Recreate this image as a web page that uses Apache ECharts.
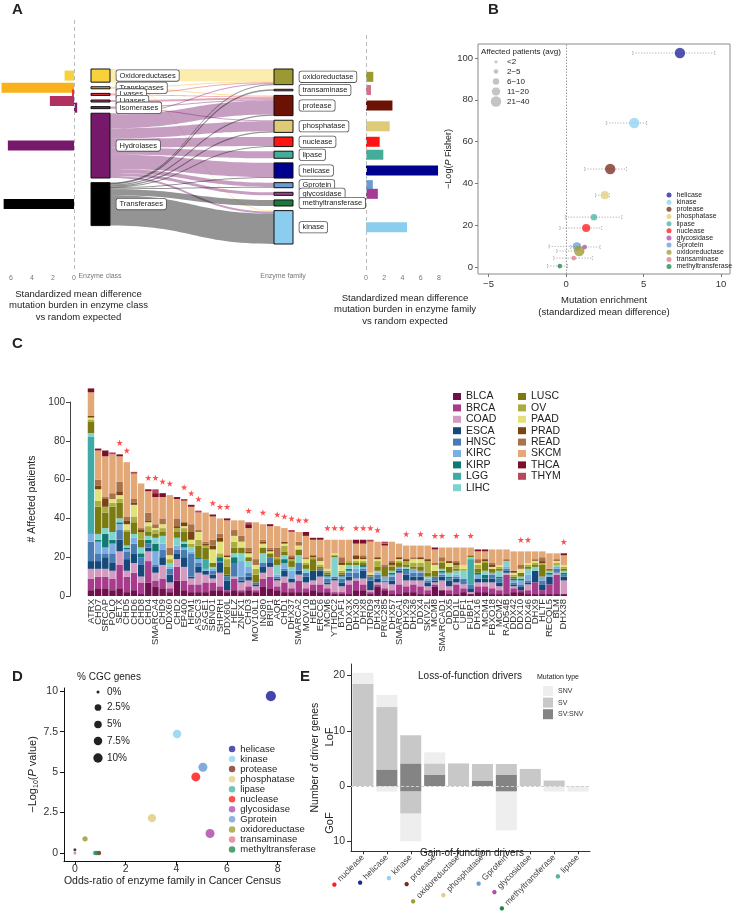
<!DOCTYPE html>
<html>
<head>
<meta charset="utf-8">
<title>Enzyme families</title>
<script src="https://cdn.jsdelivr.net/npm/echarts@6.0.0/dist/echarts.min.js"></script>
<style>
html,body{margin:0;padding:0;background:#ffffff;}
#chart{width:732px;height:917px;}
</style>
</head>
<body>
<div id="chart"></div>
<script>
// ================= DATA =================
// ---- Panel A ----
const classNames = ['Oxidoreductases','Translocases','Lyases','Ligases','Isomerases','Hydrolases','Transferases'];
const classSMD = [0.9, 6.9, 0.2, 2.3, -0.3, 6.3, 6.7];
const familyNames = ['oxidoreductase','transaminase','protease','phosphatase','nuclease','lipase','helicase','Gprotein','glycosidase','methyltransferase','kinase'];
const familySMD = [0.8, 0.55, 2.9, 2.6, 1.5, 1.9, 7.9, 0.75, 1.3, -0.3, 4.5];
const flowFrom = ['Oxidoreductases','Oxidoreductases','Translocases','Translocases','Lyases','Lyases','Ligases','Isomerases','Isomerases',
  'Hydrolases','Hydrolases','Hydrolases','Hydrolases','Hydrolases','Hydrolases','Hydrolases','Hydrolases','Hydrolases',
  'Transferases','Transferases','Transferases','Transferases','Transferases','Transferases','Transferases','Transferases','Transferases'];
const flowTo = ['oxidoreductase','kinase','oxidoreductase','protease','oxidoreductase','protease','protease','protease','phosphatase',
  'oxidoreductase','protease','phosphatase','nuclease','lipase','helicase','Gprotein','glycosidase','kinase',
  'oxidoreductase','transaminase','protease','phosphatase','nuclease','helicase','Gprotein','methyltransferase','kinase'];
const flowSize = [12,1,1,1,1,1,2,1,1,
  1,14,10,9,7,14,4,3,2,
  0.5,1.5,1,1,0.5,1,1,6,30];
const aLeftTicks = [0,2,4,6];
const aRightTicks = [0,2,4,6,8];

// ---- Panel B ----
const bFamilies = ['helicase','kinase','protease','phosphatase','lipase','nuclease','glycosidase','Gprotein','oxidoreductase','transaminase','methyltransferase'];
const bEnrichment = [7.35, 4.4, 2.85, 2.5, 1.8, 1.3, 1.2, 0.7, 0.85, 0.5, -0.4];
const bCILow =      [4.3, 2.6, 1.2, 1.9, -0.05, -0.4, 0.3, -1.1, -0.6, -0.8, -1.2];
const bCIHigh =     [9.6, 5.2, 3.9, 2.8, 3.6, 2.3, 2.2, 0.9, 1.1, 1.7, 0.1];
const bNegLogP =    [102.4, 68.9, 46.9, 34.4, 23.9, 18.7, 9.6, 9.9, 7.7, 4.3, 0.5];
const bAvgPatients = [28, 35, 24, 15, 8, 14, 4, 12, 25, 3, 4];
const bSizeLabels = ['<2','2\u22125','6\u221210','11\u221220','21\u221240'];
const bSizeRep = [1, 3, 8, 15, 30];
const bXTicks = [-5,0,5,10];
const bYTicks = [0,20,40,60,80,100];

// ---- Panel C ----
const genes = ['ATRX','CHD7','SRCAP','POLQ','SETX','CHD5','CHD6','CHD8','CHD4','SMARCA4','CHD9','DDX60','CHD2','EP400','HFM1','ASCC3','SAGE1','SBNO1','SHPRH','DDX60L','HELZ','ZNFX1','CHD3','MOV10L1','INO80','BRIP1','AQR','CHD1','DHX37','SMARCA2','MOV10','HELB','ERCC6','MCM6','YTHDC2','BTAF1','DDX3X','DHX30','DHX8','TDRD9','DHX34','PRIC285','DHX57','SMARCA1','DHX29','DHX36','DDX4','SKIV2L','MCM8','SMARCAD1','DDX5','CHD1L','UPF1','FUBP1','DHX16','MCM4','FBXO18','MCM2','RAD54B','DDX42','DDX10','DDX46','DHX9','HLTF','RECQL5','BLM','DHX38'];
const cancerTypes = ['BLCA','BRCA','COAD','ESCA','HNSC','KIRC','KIRP','LGG','LIHC','LUSC','OV','PAAD','PRAD','READ','SKCM','THCA','THYM'];
const BLCA = [3,4,4,3,4,2,3,1,7,5, 4,2,8,3,2,2,2,3,3,2, 3,2,3,2,5,4,3,2,2,2, 2,3,2,2,1,1,1,3,3,1, 5,3,1,1,2,2,1,1,5,3, 1,1,2,1,2,2,1,1,1,2, 2,1,1,1,1,1,1];
const BRCA = [6,6,6,6,12,8,9,6,11,3, 5,2,7,5,4,4,5,4,2,1, 6,1,2,1,4,6,2,5,2,6, 2,3,4,2,1,1,5,5,3,1, 1,1,2,5,3,4,4,2,1,0, 2,5,2,0,3,3,3,2,10,2, 1,2,6,2,5,10,0];
const COAD = [5,4,4,4,7,3,5,3,5,4, 7,3,4,7,3,6,4,2,7,0, 1,4,3,2,3,5,3,3,3,3, 3,2,4,2,6,3,2,1,3,1, 1,3,3,6,3,2,3,2,1,5, 2,1,2,1,2,2,3,2,1,1, 0,3,0,0,0,1,7];
const ESCA = [4,4,6,4,6,6,5,6,2,3, 4,4,3,5,1,3,2,2,5,5, 0,1,2,1,3,2,1,3,2,2, 3,5,3,1,1,2,2,0,4,5, 2,0,2,1,3,2,2,2,1,2, 3,2,0,2,2,2,2,2,1,1, 2,1,6,3,4,0,2];
const HNSC = [10,4,2,5,5,4,5,4,2,1, 4,3,2,4,12,2,0,2,1,2, 7,2,2,1,2,3,1,1,0,4, 2,0,1,2,1,2,2,3,1,2, 2,1,2,1,2,2,2,1,2,1, 1,1,3,2,0,0,2,2,1,1, 1,1,0,2,0,2,1];
const KIRC = [4,6,3,5,3,1,3,0,0,7, 3,1,2,1,1,2,1,1,0,0, 0,8,3,0,0,0,1,3,4,0, 0,0,0,1,0,1,1,2,1,0, 1,2,1,1,0,2,1,1,0,1, 0,1,0,0,2,0,1,0,1,1, 2,3,0,2,1,1,0];
const KIRP = [0,1,7,2,1,1,0,2,2,4, 0,0,0,2,0,1,0,0,2,1, 3,0,0,0,0,0,0,2,0,0, 0,0,0,1,0,1,1,0,1,0, 0,0,1,0,1,0,0,0,0,1, 1,0,0,0,1,2,0,1,0,1, 1,0,0,0,1,0,1];
const LGG  = [50,0,0,0,0,0,0,0,0,0, 0,0,0,0,0,0,5,0,0,0, 0,0,0,0,0,0,0,0,0,0, 0,0,0,0,0,0,0,0,0,0, 0,0,0,0,0,0,0,0,0,0, 0,0,0,13,0,0,0,0,0,0, 0,0,0,0,0,0,0];
const LIHC = [2,3,3,4,2,1,2,3,2,3, 4,2,4,1,2,0,0,1,0,0, 2,4,3,0,5,0,5,2,2,4, 2,0,0,0,10,0,2,2,0,0, 1,0,1,0,1,0,0,1,0,1, 2,2,4,1,0,2,0,3,3,0, 1,3,2,0,1,1,1];
const LUSC = [6,14,8,13,8,7,6,4,2,2, 2,0,3,5,0,6,6,2,0,4, 3,3,2,4,3,2,3,2,3,3, 2,6,1,1,1,1,1,1,1,1, 2,5,2,2,1,1,2,2,3,3, 3,1,0,1,2,4,2,1,0,1, 2,1,1,6,1,0,1];
const OV   = [1,3,3,2,2,1,3,4,3,2, 2,2,2,2,2,3,1,0,2,4, 3,0,0,3,0,0,1,3,1,0, 1,1,1,1,0,1,1,1,1,0, 3,0,1,1,2,2,2,6,0,1, 0,2,1,0,2,1,0,1,0,1, 0,1,1,1,0,1,1];
const PAAD = [1,6,0,2,2,3,6,0,2,1, 2,2,0,1,2,4,0,7,6,1, 3,3,2,2,2,1,0,1,0,2, 2,0,2,1,1,3,0,1,1,1, 1,0,0,1,0,2,2,0,3,0, 2,0,2,0,1,0,1,1,0,1, 2,1,1,0,0,1,1];
const PRAD = [1,2,4,0,2,2,1,1,1,0, 0,0,1,2,4,0,1,2,2,1, 0,0,1,0,1,1,0,1,1,0, 0,1,0,0,0,1,0,2,1,0, 1,0,1,1,1,0,1,1,0,0, 1,1,0,0,0,1,1,0,0,1, 0,0,0,1,0,0,0];
const READ = [0,3,1,3,5,2,2,1,4,2, 3,4,4,0,4,1,1,3,2,0, 3,3,2,3,1,1,5,0,1,2, 1,0,2,0,0,3,0,0,1,0, 0,1,1,0,0,1,0,0,1,2, 0,1,0,0,2,0,1,0,1,0, 2,0,1,2,0,1,0];
const SKCM = [12,15,21,20,13,28,13,23,11,14, 11,27,10,11,9,9,15,12,8,18, 5,8,10,19,8,11,11,7,12,5, 11,8,9,15,7,9,11,6,6,16, 8,10,10,7,7,6,6,7,7,5, 7,7,9,4,4,4,7,8,5,10, 7,6,4,3,8,3,5];
const THCA = [2,1,3,0,1,0,0,0,1,2, 2,0,1,0,1,0,0,1,0,1, 0,0,2,0,0,1,0,0,0,0, 2,1,1,0,0,0,0,2,2,0, 0,1,0,0,0,0,0,0,1,0, 0,0,0,0,1,1,0,0,0,0, 0,0,0,0,0,0,1];
const THYM = [0,0,0,1,0,0,1,0,0,2, 0,0,0,1,0,1,0,0,0,0, 0,0,1,0,0,0,0,0,1,0, 0,0,0,0,0,0,0,0,0,1, 0,1,0,0,0,0,0,0,0,0, 0,0,0,0,0,0,0,0,0,0, 0,0,0,0,0,0,0];
const starGenes = ['SETX','CHD5','CHD4','SMARCA4','CHD9','DDX60','EP400','HFM1','ASCC3','SBNO1','SHPRH','DDX60L','CHD3','INO80','AQR','CHD1','DHX37','SMARCA2','MOV10','MCM6','YTHDC2','BTAF1','DHX30','DHX8','TDRD9','DHX34','DHX29','DDX4','MCM8','SMARCAD1','CHD1L','FUBP1','DDX10','DDX46','DHX38'];

// ---- Panel D ----
const dOddsRatio = [7.73, 4.03, 0.95, 3.04, 0.79, 4.77, 5.33, 5.05, 0.4, 0.0, 0.85];
const dNegLogP   = [9.7, 7.35, 0.0, 2.15, 0.0, 4.7, 1.2, 5.3, 0.87, 0.0, 0.0];
const dPctCGC    = [12.5, 7.5, 1, 7, 1, 9, 9, 9, 1.5, 0, 1];
const dOtherOdds = [0.0];
const dOtherNegLogP = [0.2];
const dOtherPct = [0];
const dSizeLegend = [0, 2.5, 5, 7.5, 10];
const dXTicks = [0,2,4,6,8];
const dYTicks = [0,2.5,5,7.5,10];

// ---- Panel E ----
const eFamilies = ['nuclease','helicase','kinase','protease','oxidoreductase','phosphatase','Gprotein','glycosidase','methyltransferase','lipase'];
const eLofSVSNV = [0, 3, 4.1, 2, 0, 1, 2, 0, 0, 0];
const eLofSV    = [18.5, 11.3, 5.1, 2.1, 4.1, 3, 2, 3.1, 1, 0];
const eLofSNV   = [2, 2.2, 0, 2, 0, 0, 0, 0, 0, 0];
const eGofSVSNV = [0, 0, -1, 0, 0, 0, -1, 0, 0, 0];
const eGofSV    = [0, 0, -4, 0, 0, 0, 0, 0, 0, 0];
const eGofSNV   = [0, -1, -5, 0, 0, 0, -7, 0, -1, -1];
const eYTicks = [-10, 0, 10, 20];

// ================= STYLE =================
const FONT = '"Liberation Sans", Arial, Helvetica, sans-serif';
const classColors = ['#F7D23C','#F9B21C','#E8323C','#B03064','#7E1E70','#76196B','#000000'];
const familyNodeColors = ['#9B9A32','#D4708A','#6C1204','#DDCB78','#FF1414','#44AD98','#00008F','#6A9BD2','#A43C96','#1A7A3A','#8BCDEE'];
const famColor = {helicase:'#23239C', kinase:'#92D2F2', protease:'#7B2D1D', phosphatase:'#E2CF80', lipase:'#4CB5A0', nuclease:'#FF1E1E', glycosidase:'#B04DAF', Gprotein:'#6D9ED6', oxidoreductase:'#A09D33', transaminase:'#E27890', methyltransferase:'#22884A'};
const cancerColors = ['#6E0F4E','#A83C8C','#D49ABF','#17487A','#4A7CB4','#7DAEE2','#0F7A72','#3FAAA6','#80D2CF','#7B7B12','#ABAD42','#E2E27C','#7A4312','#A8724A','#E3A878','#7B1028','#B8475E'];
const mutColors = {'SNV':'#EEEEEE','SV':'#C8C8C8','SV:SNV':'#848484'};

function bBinSize(v){ if (v < 2) return 1.6; if (v <= 5) return 3; if (v <= 10) return 4.4; if (v <= 20) return 5.8; return 7.6; }
function dSize(p){ return p < 2.5 ? 3 + 1.48 * p : 6.7 + 0.35 * (p - 2.5); }

const chart = echarts.init(document.getElementById('chart'), null, {renderer:'canvas', width:732, height:917});

function hBarRender(colors, h) {
  return function (params, api) {
    const v = api.value(0), y = api.value(1), ci = api.value(2);
    const p0 = api.coord([0, y]), p1 = api.coord([v, y]);
    return {type:'rect', shape:{x:Math.min(p0[0], p1[0]), y:p0[1] - h / 2, width:Math.abs(p1[0] - p0[0]), height:h}, style:{fill:colors[ci]}};
  };
}
function errRender(params, api) {
  const y = api.value(2);
  const a = api.coord([api.value(0), y]), b = api.coord([api.value(1), y]);
  const st = {stroke:'#9a9a9a', lineWidth:0.8, lineDash:[1.2, 1.6]};
  return {type:'group', children:[
    {type:'line', shape:{x1:a[0], y1:a[1], x2:b[0], y2:b[1]}, style:st},
    {type:'line', shape:{x1:a[0], y1:a[1] - 2, x2:a[0], y2:a[1] + 2}, style:st},
    {type:'line', shape:{x1:b[0], y1:b[1] - 2, x2:b[0], y2:b[1] + 2}, style:st}
  ]};
}
function txt(x, y, text, o) {
  o = o || {};
  return {type:'text', x:x, y:y, rotation:o.rot || 0, silent:true, z:50,
    style:{text:text, fontFamily:FONT, fontSize:o.size || 9.5, fontWeight:o.bold ? 'bold' : 'normal', fill:o.color || '#222',
      align:o.align || 'left', textAlign:o.align || 'left', verticalAlign:'middle', textVerticalAlign:'middle', rich:o.rich}};
}
const minus = v => (v < 0 ? '\u2212' + Math.abs(v) : String(v));

// sankey
const sankeyNodes = classNames.map((n, i) => ({name:n, itemStyle:{color:classColors[i]}}))
  .concat(familyNames.map((n, i) => ({name:n, itemStyle:{color:familyNodeColors[i]}})));
const sankeyLinks = flowFrom.map((s, i) => ({source:s, target:flowTo[i], value:flowSize[i]}));

// C
const cancerCounts = [BLCA,BRCA,COAD,ESCA,HNSC,KIRC,KIRP,LGG,LIHC,LUSC,OV,PAAD,PRAD,READ,SKCM,THCA,THYM];
const geneTotals = genes.map((g, i) => cancerCounts.reduce((s, a) => s + a[i], 0));
const starPath = 'path://M50,0 L61,35 L98,35 L68,57 L79,91 L50,70 L21,91 L32,57 L2,35 L39,35 Z';

const series = [];
series.push({
  type:'sankey', id:'sankey', left:91, top:69, width:202, height:175,
  nodeWidth:19, nodeGap:4.6, layoutIterations:0, draggable:false, nodeAlign:'justify',
  data:sankeyNodes, links:sankeyLinks,
  emphasis:{disabled:true},
  itemStyle:{borderColor:'#111', borderWidth:1},
  lineStyle:{color:'source', opacity:0.42, curveness:0.5},
  label:{position:'right', distance:6, fontSize:7.5, fontFamily:FONT, color:'#222', backgroundColor:'#fff',
    borderColor:'#555', borderWidth:0.8, borderRadius:2, padding:[1.5,3,1,3]}
});
series.push({type:'custom', id:'aClassBars', xAxisIndex:0, yAxisIndex:0, data:[], renderItem:hBarRender(classColors, 10), silent:true,
  markLine:{silent:true, symbol:'none', label:{show:false}, lineStyle:{type:[4,3], color:'#bbbbbb', width:1}, data:[{xAxis:0}]}});
series.push({type:'custom', id:'aFamBars', xAxisIndex:1, yAxisIndex:1, data:[], renderItem:hBarRender(familyNodeColors, 10), silent:true,
  markLine:{silent:true, symbol:'none', label:{show:false}, lineStyle:{type:[4,3], color:'#bbbbbb', width:1}, data:[{xAxis:0}]}});
// B
series.push({type:'custom', id:'bErr', xAxisIndex:2, yAxisIndex:2, silent:true, renderItem:errRender,
  encode:{x:[0,1], y:2}, data:bFamilies.map((f, i) => [bCILow[i], bCIHigh[i], bNegLogP[i]]),
  markLine:{silent:true, symbol:'none', label:{show:false}, lineStyle:{type:[1.5,1.5], color:'#9a9a9a', width:1}, data:[{xAxis:0}]}});
bFamilies.forEach((f, i) => series.push({type:'scatter', name:f, xAxisIndex:2, yAxisIndex:2, z:3,
  data:[[bEnrichment[i], bNegLogP[i], bAvgPatients[i]]], symbolSize:v => 2 * bBinSize(v[2]) * 0.62 + 1,
  itemStyle:{color:famColor[f], opacity:0.78}}));
// C
cancerTypes.forEach((ct, k) => series.push({type:'bar', name:ct, xAxisIndex:3, yAxisIndex:3, stack:'c',
  data:cancerCounts[k], barCategoryGap:'10%', clip:false, itemStyle:{color:cancerColors[k]}}));
series.push({type:'scatter', xAxisIndex:3, yAxisIndex:3, clip:false, symbol:starPath, symbolSize:6.5,
  itemStyle:{color:'#FF2222'}, data:starGenes.map(g => [g, geneTotals[genes.indexOf(g)] + 6])});
// D
series.push({type:'scatter', name:'other', xAxisIndex:4, yAxisIndex:4, data:dOtherOdds.map((x, i) => [x, dOtherNegLogP[i], dOtherPct[i]]),
  symbolSize:v => dSize(v[2]), itemStyle:{color:'#111'}});
bFamilies.forEach((f, i) => series.push({type:'scatter', name:f, xAxisIndex:4, yAxisIndex:4,
  data:[[dOddsRatio[i], dNegLogP[i], dPctCGC[i]]], symbolSize:v => dSize(v[2]), itemStyle:{color:famColor[f], opacity:0.85}}));
// E
[['SV:SNV', eLofSVSNV], ['SV:SNV', eGofSVSNV], ['SV', eLofSV], ['SV', eGofSV], ['SNV', eLofSNV], ['SNV', eGofSNV]].forEach((p, k) =>
  series.push({type:'bar', name:p[0], stack:'e', xAxisIndex:5, yAxisIndex:5, data:p[1], barCategoryGap:'12%',
    itemStyle:{color:mutColors[p[0]]},
    markLine: k === 0 ? {silent:true, symbol:'none', label:{show:false}, lineStyle:{type:[3,2], color:'#cfcfcf', width:1}, data:[{yAxis:0}]} : undefined}));

const eRich = {t:{fontSize:8.5, color:'#444', fontFamily:FONT}};
eFamilies.forEach((f, i) => { eRich['d' + i] = {fontSize:10, color:famColor[f]}; });

const axisTxt = {fontFamily:FONT, color:'#333'};
const option = {
  animation:false,
  textStyle:{fontFamily:FONT},
  grid:[
    {left:0.5, top:20, width:77.2, height:250},
    {left:360.5, top:35, width:81.2, height:235},
    {left:478, top:44, width:252, height:230, show:true, borderColor:'#8a8a8a', borderWidth:1, backgroundColor:'transparent'},
    {left:87.4, top:402, width:480, height:194},
    {left:64, top:688, width:217, height:173},
    {left:351, top:664, width:239, height:195}
  ],
  xAxis:[
    {gridIndex:0, type:'value', min:-0.35, max:7, inverse:true, axisLine:{show:false}, axisTick:{show:false}, splitLine:{show:false},
      axisLabel:{customValues:aLeftTicks, fontSize:7, color:'#777', margin:5}},
    {gridIndex:1, type:'value', min:-0.603, max:8.3, axisLine:{show:false}, axisTick:{show:false}, splitLine:{show:false},
      axisLabel:{customValues:aRightTicks, fontSize:7, color:'#777', margin:5}},
    {gridIndex:2, type:'value', min:-5.68, max:10.58, axisLine:{show:false, onZero:false}, splitLine:{show:false},
      axisTick:{show:true, customValues:bXTicks, length:3, lineStyle:{color:'#777'}},
      axisLabel:Object.assign({customValues:bXTicks, fontSize:9.5, margin:5, formatter:minus}, axisTxt),
      name:'Mutation enrichment\n(standardized mean difference)', nameLocation:'middle', nameGap:21,
      nameTextStyle:{fontSize:9.5, lineHeight:11.5, color:'#222'}},
    {gridIndex:3, type:'category', data:genes, axisLine:{show:false}, axisTick:{show:false},
      axisLabel:Object.assign({rotate:90, interval:0, fontSize:9.5, margin:3}, axisTxt)},
    {gridIndex:4, type:'value', min:-0.43, max:8.13, splitLine:{show:false},
      axisLine:{show:true, onZero:false, lineStyle:{color:'#111', width:1}},
      axisTick:{show:true, customValues:dXTicks, length:4, lineStyle:{color:'#111'}},
      axisLabel:Object.assign({customValues:dXTicks, fontSize:10.5, margin:3}, axisTxt),
      name:'Odds-ratio of enzyme family in Cancer Census', nameLocation:'middle', nameGap:15,
      nameTextStyle:{fontSize:10.5, color:'#222'}},
    {gridIndex:5, type:'category', data:eFamilies, axisLine:{show:true, onZero:false, lineStyle:{color:'#333'}},
      axisTick:{show:true, alignWithLabel:true, length:3, lineStyle:{color:'#333'}},
      axisLabel:{rotate:45, interval:0, margin:5, formatter:(v, i) => '{d' + i + '|\u25CF} {t|' + v + '}', rich:eRich}}
  ],
  yAxis:[
    {gridIndex:0, type:'value', min:20, max:270, inverse:true, show:false},
    {gridIndex:1, type:'value', min:35, max:270, inverse:true, show:false},
    {gridIndex:2, type:'value', min:-3.3, max:106.7, axisLine:{show:false, onZero:false}, splitLine:{show:false},
      axisTick:{show:true, customValues:bYTicks, length:3, lineStyle:{color:'#777'}},
      axisLabel:Object.assign({customValues:bYTicks, fontSize:9.5, margin:5}, axisTxt),
      name:'\u2212Log({i|P} Fisher)', nameLocation:'middle', nameGap:14,
      nameTextStyle:{fontSize:9, color:'#222', rich:{i:{fontStyle:'italic', fontSize:9, fontFamily:FONT}}}},
    {gridIndex:3, type:'value', min:0, max:100, interval:20, offset:17.4, splitLine:{show:false},
      axisLine:{show:true, lineStyle:{color:'#444'}}, axisTick:{show:true, length:4, lineStyle:{color:'#444'}},
      axisLabel:Object.assign({fontSize:10, margin:5}, axisTxt),
      name:'# Affected patients', nameLocation:'middle', nameGap:30, nameTextStyle:{fontSize:10.5, color:'#222'}},
    {gridIndex:4, type:'value', min:-0.5, max:10.2, splitLine:{show:false},
      axisLine:{show:true, onZero:false, lineStyle:{color:'#111'}},
      axisTick:{show:true, customValues:dYTicks, length:4, lineStyle:{color:'#111'}},
      axisLabel:Object.assign({customValues:dYTicks, fontSize:10.5, margin:6}, axisTxt),
      name:'\u2212Log{sub|10}({i|P} value)', nameLocation:'middle', nameGap:21,
      nameTextStyle:{fontSize:11, color:'#222', rich:{sub:{fontSize:7, padding:[7,0,0,0], fontFamily:FONT}, i:{fontStyle:'italic', fontSize:11, fontFamily:FONT}}}},
    {gridIndex:5, type:'value', min:-11.8, max:22.1, splitLine:{show:false},
      axisLine:{show:true, onZero:false, lineStyle:{color:'#333'}},
      axisTick:{show:true, customValues:eYTicks, length:4, lineStyle:{color:'#333'}},
      axisLabel:Object.assign({customValues:eYTicks, fontSize:10.5, margin:6, formatter:v => String(Math.abs(v))}, axisTxt),
      name:'Number of driver genes', nameLocation:'middle', nameGap:30, nameTextStyle:{fontSize:10.5, color:'#222'}}
  ],
  legend:[
    {id:'lc1', data:cancerTypes.slice(0, 9), left:453, top:391, orient:'vertical', icon:'rect', itemWidth:8, itemHeight:7, itemGap:0.4,
      padding:0, selectedMode:false, textStyle:{fontSize:10.5, lineHeight:10, color:'#222', fontFamily:FONT}},
    {id:'lc2', data:cancerTypes.slice(9), left:518, top:391, orient:'vertical', icon:'rect', itemWidth:8, itemHeight:7, itemGap:0.4,
      padding:0, selectedMode:false, textStyle:{fontSize:10.5, lineHeight:10, color:'#222', fontFamily:FONT}},
    {id:'lb', data:bFamilies, left:666.5, top:191.5, orient:'vertical', icon:'circle', itemWidth:5, itemHeight:5, itemGap:0.05,
      padding:0, selectedMode:false, textStyle:{fontSize:7, lineHeight:7.1, color:'#222', fontFamily:FONT}},
    {id:'ld', data:bFamilies, left:228.8, top:744, orient:'vertical', icon:'circle', itemWidth:6.5, itemHeight:6.5, itemGap:0.05,
      padding:0, selectedMode:false, textStyle:{fontSize:9.5, lineHeight:9.7, color:'#222', fontFamily:FONT}},
    {id:'le', data:['SNV','SV','SV:SNV'], left:543, top:686, orient:'vertical', icon:'rect', itemWidth:10, itemHeight:10, itemGap:1.6,
      padding:0, selectedMode:false, textStyle:{fontSize:7, color:'#333', fontFamily:FONT}}
  ],
  series:series,
  graphic:{elements:[]}
};

// graphic texts / legend keys
const G = [];
G.push(txt(12, 10, 'A', {size:15, bold:true}));
G.push(txt(488, 10, 'B', {size:15, bold:true}));
G.push(txt(12, 344, 'C', {size:15, bold:true}));
G.push(txt(12, 677, 'D', {size:15, bold:true}));
G.push(txt(300, 677, 'E', {size:15, bold:true}));
G.push(txt(100, 276, 'Enzyme class', {size:7, color:'#777', align:'center'}));
G.push(txt(283, 276, 'Enzyme family', {size:7, color:'#777', align:'center'}));
['Standardized mean difference','mutation burden in enzyme class','vs random expected'].forEach((s, i) =>
  G.push(txt(78.5, 294 + i * 11.8, s, {size:9.5, align:'center'})));
['Standardized mean difference','mutation burden in enzyme family','vs random expected'].forEach((s, i) =>
  G.push(txt(405, 298 + i * 11.5, s, {size:9.5, align:'center'})));
G.push(txt(481, 52, 'Affected patients (avg)', {size:8}));
bSizeLabels.forEach((s, i) => {
  const yy = [62, 71.5, 81.5, 91.5, 101.5][i];
  G.push({type:'circle', silent:true, z:50, shape:{cx:496, cy:yy, r:(2 * bBinSize(bSizeRep[i]) * 0.62 + 1) / 2}, style:{fill:'#c4c4c4'}});
  G.push(txt(507, yy, s, {size:8}));
});
G.push(txt(77, 677, '% CGC genes', {size:10}));
dSizeLegend.forEach((p, i) => {
  const yy = [692, 707.5, 724.5, 741, 758][i];
  G.push({type:'circle', silent:true, z:50, shape:{cx:98, cy:yy, r:dSize(p) / 2}, style:{fill:'#222'}});
  G.push(txt(107, yy, p + '%', {size:10}));
});
G.push(txt(470, 676, 'Loss-of-function drivers', {size:10, align:'center'}));
G.push(txt(472, 853, 'Gain-of-function drivers', {size:10, align:'center'}));
G.push(txt(558, 677, 'Mutation type', {size:7, align:'center'}));
G.push(txt(330, 737, 'LoF', {size:11, align:'center', rot:Math.PI / 2}));
G.push(txt(330, 823, 'GoF', {size:11, align:'center', rot:Math.PI / 2}));
option.graphic.elements = G;

chart.setOption(option);

// place the standardized-mean-difference bars at the centres of the sankey nodes laid out by ECharts
try {
  const sm = chart.getModel().getSeriesByIndex(0);
  const data = sm.getData();
  const li = sm.layoutInfo || {y:69};
  const centre = name => { const l = data.getItemLayout(data.indexOfName(name)); return li.y + l.y + l.dy / 2; };
  chart.setOption({series:[
    {id:'aClassBars', data:classSMD.map((v, i) => [v, centre(classNames[i]), i])},
    {id:'aFamBars', data:familySMD.map((v, i) => [v, centre(familyNames[i]), i])}
  ]});
} catch (e) { console.error(e); }
</script>
</body>
</html>
